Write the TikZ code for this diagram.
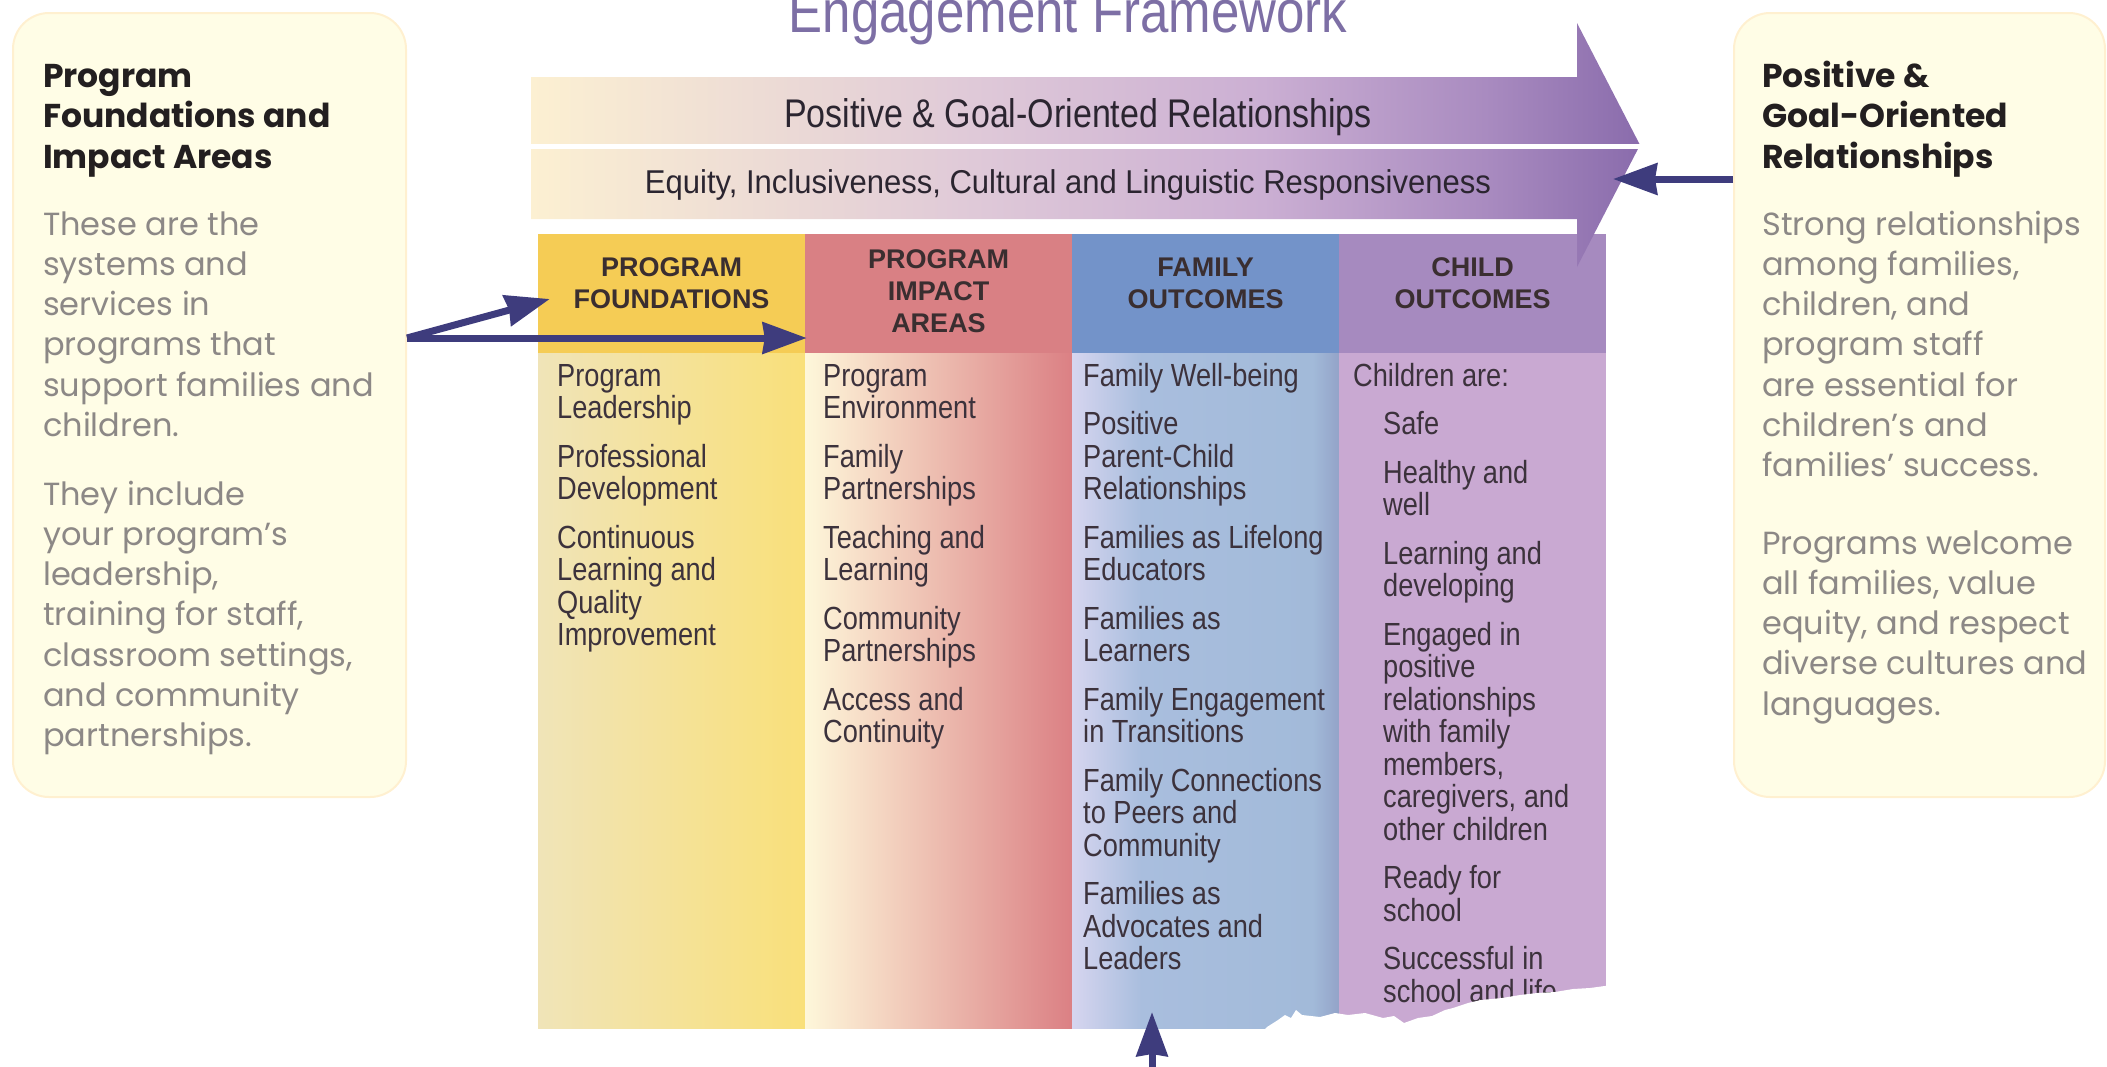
\documentclass[tikz,border=0pt]{standalone}
\usepackage{fontspec}
\setmainfont{Liberation Sans}
\newfontfamily\condfont[FakeStretch=0.85]{Liberation Sans}
\newfontfamily\semicondfont[FakeStretch=0.94]{Liberation Sans}
\newfontfamily\sidefont{Poppins}
\usetikzlibrary{arrows.meta,positioning}

\definecolor{boxfill}{HTML}{FFFDE6}
\definecolor{boxline}{HTML}{FFF0D0}
\definecolor{sidegray}{HTML}{8C8886}
\definecolor{inkdark}{HTML}{231F20}
\definecolor{colink}{HTML}{3C323C}
\definecolor{hdink}{HTML}{3A2E30}
\definecolor{bandink}{HTML}{2B2530}
\definecolor{navy}{HTML}{3E3C7D}
\definecolor{titlepurple}{HTML}{7D6FA5}
\definecolor{foundhd}{HTML}{F5CC55}
\definecolor{impacthd}{HTML}{D98084}
\definecolor{familyhd}{HTML}{7393C9}
\definecolor{childhd}{HTML}{A68ABF}
\definecolor{childbd}{HTML}{C9A9D2}
\definecolor{foundL}{HTML}{F0E4B8}
\definecolor{foundR}{HTML}{F9E07A}
\definecolor{impactL}{HTML}{FEF7DA}
\definecolor{impactR}{HTML}{DB8084}
\definecolor{blueA}{HTML}{D6D5EF}
\definecolor{blueB}{HTML}{A9BEDE}
\definecolor{blueC}{HTML}{A2BAD9}
\definecolor{blueD}{HTML}{93A3C8}
\definecolor{arrA}{HTML}{FCF0D2}
\definecolor{arrB}{HTML}{DFC9D8}
\definecolor{arrC}{HTML}{CBAFD3}
\definecolor{arrD}{HTML}{A98BC0}
\definecolor{arrE}{HTML}{8A6CAC}

\pgfdeclarehorizontalshading{bluebody}{100bp}{color(0bp)=(blueA); color(25bp)=(blueA);
  color(38bp)=(blueB); color(70bp)=(blueC); color(75bp)=(blueD); color(100bp)=(blueD)}
\pgfdeclarehorizontalshading{arrowshade}{100bp}{color(0bp)=(arrA); color(25bp)=(arrA);
  color(45bp)=(arrB); color(58bp)=(arrC); color(68bp)=(arrD); color(75bp)=(arrE); color(100bp)=(arrE)}

% fixed height of the first line, so a block can be placed by its first baseline
\newcommand{\colstrut}{\rule{0pt}{30pt}}
\newcommand{\sidestrut}{\rule{0pt}{38pt}}

\begin{document}
\begin{tikzpicture}[x=1pt,y=-1pt,
    sidebox/.style={draw=boxline, line width=2pt, fill=boxfill, rounded corners=36pt,
      minimum height=784pt, inner sep=0pt},
    sidettl/.style={anchor=north west, yshift=38pt, inner sep=0pt, align=left, text=inkdark,
      font=\sidefont\bfseries\fontsize{33}{40.5}\selectfont},
    sidetxt/.style={anchor=north west, yshift=38pt, inner sep=0pt, align=left, text=sidegray,
      font=\sidefont\fontsize{32}{40.2}\selectfont},
    colhead/.style={minimum width=267pt, minimum height=119pt, inner sep=0pt},
    colbody/.style={minimum width=267pt, minimum height=675pt, inner sep=0pt},
    hdtext/.style={align=center, inner sep=0pt, text=hdink,
      font=\bfseries\fontsize{27}{32}\selectfont},
    coltxt/.style={anchor=north west, yshift=30pt, inner sep=0pt, align=left, text=colink,
      font=\condfont\fontsize{32}{32.5}\selectfont},
    navyarrow/.style={draw=navy, line width=7pt, -{Stealth[length=44pt,width=31pt,inset=2pt]}}
  ]
  \useasboundingbox (0,0) rectangle (2107,1066);

  % side boxes
  \node[sidebox, minimum width=393pt] (leftbox) at (209.5,405) {};
  \node[sidebox, minimum width=371pt] (rightbox) at (1919.5,405) {};

  \node[sidettl] (leftttl) at (43,87) {\sidestrut Program\\Foundations and\\Impact Areas};
  \node[sidetxt] (leftpa) at (43,235) {\sidestrut These are the\\systems and\\services in\\programs that\\support families and\\children.};
  \node[sidetxt] (leftpb) at (43,505) {\sidestrut They include\\your program’s\\leadership,\\training for staff,\\classroom settings,\\and community\\partnerships.};

  \node[sidettl] (rightttl) at (1762,87) {\sidestrut Positive \&\\Goal-Oriented\\Relationships};
  \node[sidetxt] (rightpa) at (1762,235) {\sidestrut Strong relationships\\among families,\\children, and\\program staff\\are essential for\\children’s and\\families’ success.};
  \node[sidetxt] (rightpb) at (1762,554) {\sidestrut Programs welcome\\all families, value\\equity, and respect\\diverse cultures and\\languages.};

  % title
  \node[anchor=base, inner sep=0pt, text=titlepurple, font=\condfont\fontsize{60}{60}\selectfont]
    (title) at (1068,32) {Engagement Framework};

  % columns
  \node[colbody, left color=foundL, right color=foundR] (foundbody) at (671.5,690.5) {};
  \node[colbody, left color=impactL, right color=impactR] (impactbody) at (938.5,690.5) {};
  \node[colbody, shade, shading=bluebody] (familybody) at (1205.5,690.5) {};
  \node[colbody, fill=childbd] (childbody) at (1472.5,690.5) {};

  \node[colhead, fill=foundhd,
    label={[hdtext, name=foundtxt, yshift=10.5pt]center:{PROGRAM\\FOUNDATIONS}}] (found) at (671.5,293.5) {};
  \node[colhead, fill=impacthd,
    label={[hdtext, name=impacttxt, yshift=2pt]center:{PROGRAM\\IMPACT\\AREAS}}] (impact) at (938.5,293.5) {};
  \node[colhead, fill=familyhd,
    label={[hdtext, name=familytxt, yshift=10.5pt]center:{FAMILY\\OUTCOMES}}] (family) at (1205.5,293.5) {};
  \node[colhead, fill=childhd,
    label={[hdtext, name=childtxt, yshift=10.5pt]center:{CHILD\\OUTCOMES}}] (child) at (1472.5,293.5) {};

  \node[coltxt] (foundlist) at (557,386) {\colstrut Program\\Leadership\\[16pt]Professional\\Development\\[16pt]Continuous\\Learning and\\Quality\\Improvement};
  \node[coltxt] (impactlist) at (823,386) {\colstrut Program\\Environment\\[16pt]Family\\Partnerships\\[16pt]Teaching and\\Learning\\[16pt]Community\\Partnerships\\[16pt]Access and\\Continuity};
  \node[coltxt] (familylist) at (1083,386) {\colstrut Family Well-being\\[16pt]Positive\\Parent-Child\\Relationships\\[16pt]Families as Lifelong\\Educators\\[16pt]Families as\\Learners\\[16pt]Family Engagement\\in Transitions\\[16pt]Family Connections\\to Peers and\\Community\\[16pt]Families as\\Advocates and\\Leaders};
  \node[coltxt] (childintro) at (1353,386) {\colstrut Children are:};
  \node[coltxt] (childlist) at (1383,434.5) {\colstrut Safe\\[16pt]Healthy and\\well\\[16pt]Learning and\\developing\\[16pt]Engaged in\\positive\\relationships\\with family\\members,\\caregivers, and\\other children\\[16pt]Ready for\\school\\[16pt]Successful in\\school and life};

  % torn bottom edge
  \fill[white] (1258,1036) -- (1267,1027) -- (1278,1020) -- (1285,1015) -- (1291,1018) -- (1296,1010)
    -- (1302,1015) -- (1320,1017) -- (1335,1013) -- (1348,1015) -- (1365,1013) -- (1383,1018)
    -- (1394,1016) -- (1404,1023) -- (1418,1018) -- (1432,1016) -- (1445,1010) -- (1453,1008)
    -- (1468,1003) -- (1481,1000) -- (1502,998) -- (1520,995) -- (1537,993) -- (1555,992)
    -- (1573,989) -- (1590,988) -- (1612,985) -- (1612,1036) -- cycle;

  % big arrow
  \shade[shading=arrowshade] (531,77) -- (1577,77) -- (1577,23) -- (1640,145) -- (1577,267)
    -- (1577,219) -- (531,219) -- cycle;
  \draw[white, line width=5pt] (531,146) -- (1642,146);
  \node[anchor=base, inner sep=0pt, text=bandink, font=\condfont\fontsize{40}{40}\selectfont]
    (bandtop) at (1078,127) {Positive \& Goal-Oriented Relationships};
  \node[anchor=base, inner sep=0pt, text=bandink, font=\semicondfont\fontsize{33}{33}\selectfont]
    (bandlow) at (1068,193) {Equity, Inclusiveness, Cultural and Linguistic Responsiveness};

  % arrows
  \coordinate (lfork) at (leftbox.east |- 0,338);
  \coordinate (rfoot) at (rightbox.west |- 0,179);
  \coordinate (rtip) at (1613,179);
  \coordinate (bfoot) at (1152,1070);
  \coordinate (btip) at (1152,1012);
  \draw[navyarrow] (lfork) -- ([xshift=12pt,yshift=-5.5pt]found.west);
  \draw[navyarrow] (lfork) -- ([xshift=2pt]impact.west |- lfork);
  \draw[navyarrow] (rfoot) -- (rtip);
  \draw[navyarrow] (bfoot) -- (btip);
\end{tikzpicture}
\end{document}
